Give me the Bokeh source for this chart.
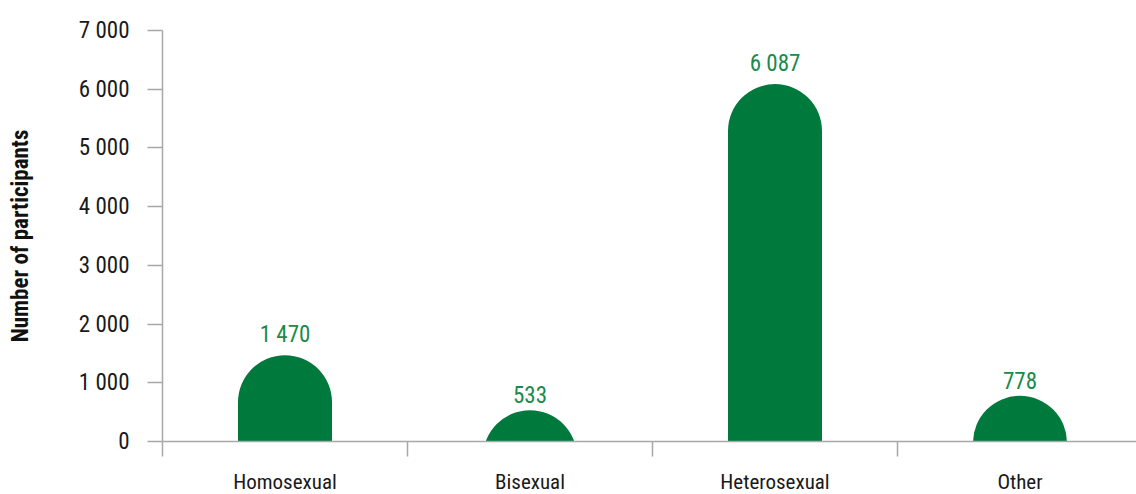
from bokeh.plotting import figure
from bokeh.models import FixedTicker, Range1d, ColumnDataSource
from bokeh.core.properties import value
from bokeh.embed import file_html
from bokeh.resources import INLINE

categories = ["Homosexual", "Bisexual", "Heterosexual", "Other"]
participants = [1470, 533, 6087, 778]
value_labels = ["1 470", "533", "6 087", "778"]
y_ticks = [0, 1000, 2000, 3000, 4000, 5000, 6000, 7000]
y_tick_labels = ["0", "1 000", "2 000", "3 000", "4 000", "5 000", "6 000", "7 000"]

FONT = "Liberation Sans Narrow, Roboto Condensed, DejaVu Sans Condensed, sans-serif"
BAR = "#00793D"
LBL = "#1A8A4B"
AX = "#A8A8A8"

left, top = 162, 30
frame_w, frame_h = 974, 411
cat_px = 245.0
x_end = frame_w / cat_px
y_max = 7000

p = figure(frame_width=frame_w, frame_height=frame_h, output_backend="svg", toolbar_location=None,
           x_range=Range1d(0, x_end), y_range=Range1d(0, y_max),
           min_border_left=left, min_border_right=0, min_border_top=top,
           min_border_bottom=0)
p.outline_line_color = None
p.grid.grid_line_color = None
p.background_fill_color = "white"
p.border_fill_color = "white"

xs = [i + 0.5 for i in range(len(categories))]
bar_px = 94.0
r_px = bar_px / 2
bar_w = bar_px / cat_px
r_data = r_px * y_max / frame_h
tops = [max(v - r_data, 0) for v in participants]
centers = [v - r_data for v in participants]

src = ColumnDataSource(dict(x=xs, v=participants, top=tops, cy=centers, lbl=value_labels))
p.vbar(x="x", top="top", bottom=0, width=bar_w, source=src, fill_color=BAR, line_color=None)
p.circle(x="x", y="cy", radius=r_px, radius_units="screen", source=src,
         fill_color=BAR, line_color=None)
p.text(x="x", y="v", text="lbl", source=src, text_align="center", text_baseline="bottom",
       y_offset=-7, text_color=LBL, text_font=value(FONT), text_font_size="23px")

# x axis
p.xaxis.ticker = FixedTicker(ticks=xs, minor_ticks=[0, 1, 2, 3])
p.xaxis.major_label_overrides = {x: c for x, c in zip(xs, categories)}
p.xaxis.major_tick_out = 0
p.xaxis.major_tick_in = 0
p.xaxis.minor_tick_out = 15
p.xaxis.minor_tick_in = 0
p.xaxis.minor_tick_line_color = AX
p.xaxis.minor_tick_line_width = 1.5
p.xaxis.axis_line_color = AX
p.xaxis.axis_line_width = 1.5
p.xaxis.major_label_standoff = 13
p.xaxis.major_label_text_font = FONT
p.xaxis.major_label_text_font_size = "21px"
p.xaxis.major_label_text_color = "#1a1a1a"

# y axis
p.yaxis.ticker = FixedTicker(ticks=y_ticks, minor_ticks=[])
p.yaxis.major_label_overrides = {t: l for t, l in zip(y_ticks, y_tick_labels)}
p.yaxis.major_tick_out = 15
p.yaxis.major_tick_in = 0
p.yaxis.major_tick_line_color = AX
p.yaxis.major_tick_line_width = 1.5
p.yaxis.axis_line_color = AX
p.yaxis.axis_line_width = 1.5
p.yaxis.major_label_standoff = 18
p.yaxis.major_label_text_font = FONT
p.yaxis.major_label_text_font_size = "23px"
p.yaxis.major_label_text_color = "#1a1a1a"
p.yaxis.axis_label = "Number of participants"
p.yaxis.axis_label_text_font = FONT
p.yaxis.axis_label_text_font_style = "bold"
p.yaxis.axis_label_text_font_size = "23px"
p.yaxis.axis_label_text_color = "#111111"
p.yaxis.axis_label_standoff = 42

open("out.html", "w").write(file_html(p, INLINE))
